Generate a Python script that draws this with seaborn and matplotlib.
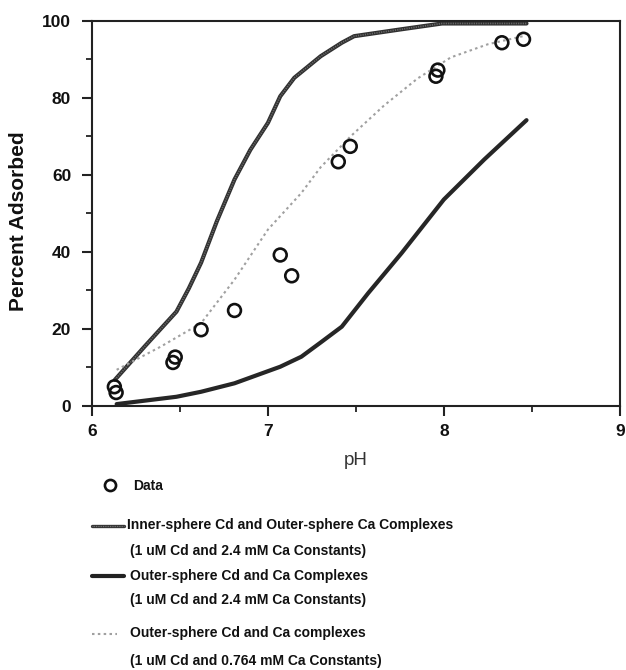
import matplotlib
matplotlib.use("Agg")
import matplotlib.pyplot as plt
from matplotlib.lines import Line2D
from matplotlib.ticker import MultipleLocator
import seaborn as sns

# Measured data
data_ph = [6.127, 6.137, 6.46, 6.473, 6.62, 6.81, 7.07, 7.135, 7.40, 7.468, 7.955, 7.966, 8.33, 8.453]
data_pct = [5.0, 3.5, 11.3, 12.7, 19.8, 24.8, 39.2, 33.8, 63.4, 67.4, 85.6, 87.2, 94.3, 95.2]

# Inner-sphere Cd and Outer-sphere Ca complexes (2.4 mM Ca)
inner_ph = [6.13, 6.30, 6.48, 6.55, 6.62, 6.71, 6.81, 6.90, 7.00, 7.07, 7.15, 7.30, 7.42, 7.49, 7.76, 7.99, 8.47]
inner_pct = [6.8, 15.5, 24.5, 30.5, 37.2, 48.0, 58.8, 66.5, 73.5, 80.4, 85.2, 90.8, 94.3, 96.0, 97.8, 99.3, 99.3]

# Outer-sphere Cd and Ca complexes (2.4 mM Ca)
outer_ph = [6.14, 6.48, 6.62, 6.81, 7.07, 7.19, 7.30, 7.42, 7.57, 7.76, 8.00, 8.23, 8.47]
outer_pct = [0.5, 2.4, 3.7, 5.9, 10.2, 12.8, 16.5, 20.6, 29.3, 39.7, 53.6, 64.0, 74.2]

# Outer-sphere Cd and Ca complexes (0.764 mM Ca)
low_ph = [6.14, 6.39, 6.62, 6.81, 7.00, 7.19, 7.30, 7.47, 7.66, 7.85, 8.04, 8.25, 8.45]
low_pct = [9.4, 15.4, 21.5, 32.8, 45.8, 55.3, 62.0, 70.0, 78.0, 85.0, 90.5, 93.9, 96.0]

sns.set_theme(style="ticks")
plt.rcParams["font.family"] = ["Liberation Sans", "DejaVu Sans"]

fig = plt.figure(figsize=(6.26, 6.70), dpi=100)
ax = fig.add_axes([0.147, 0.394, 0.843, 0.575])

sns.lineplot(x=inner_ph, y=inner_pct, ax=ax, color="#303030", linewidth=3.0, sort=False)
sns.lineplot(x=inner_ph, y=inner_pct, ax=ax, color="#6a6a6a", linewidth=1.2,
             linestyle=(0, (0.7, 0.7)), sort=False)
sns.lineplot(x=outer_ph, y=outer_pct, ax=ax, color="#262626", linewidth=3.0, sort=False)
sns.lineplot(x=low_ph, y=low_pct, ax=ax, color="#a0a0a0", linewidth=1.5,
             linestyle=(0, (1.2, 1.6)), sort=False)
sns.scatterplot(x=data_ph, y=data_pct, ax=ax, marker="o", s=85, facecolors="none",
                edgecolor="#111111", linewidth=1.9, zorder=5)

ax.set_xlim(6, 9)
ax.set_ylim(0, 100)
ax.xaxis.set_major_locator(MultipleLocator(1))
ax.xaxis.set_minor_locator(MultipleLocator(0.5))
ax.yaxis.set_major_locator(MultipleLocator(20))
ax.yaxis.set_minor_locator(MultipleLocator(10))
ax.tick_params(which="major", direction="out", length=7, width=1.5, color="#222222",
               labelsize=12.5, labelcolor="#111111")
ax.tick_params(axis="x", which="major", pad=6)
ax.tick_params(axis="y", which="major", pad=8)
ax.tick_params(which="minor", direction="out", length=4, width=1.3, color="#222222")
for lab in ax.get_xticklabels() + ax.get_yticklabels():
    lab.set_fontweight("bold")
for sp in ax.spines.values():
    sp.set_visible(True)
    sp.set_linewidth(1.5)
    sp.set_color("#222222")

ax.set_xlabel("pH", fontsize=13.5, fontweight="normal", color="#333333", labelpad=9)
ax.set_ylabel("Percent Adsorbed", fontsize=15, fontweight="bold", color="#111111")
ax.yaxis.set_label_coords(-0.121, 0.48)

# Legend below the plot
W, H = 626, 670
def fx(px): return px / W
def fy(py): return 1 - py / H

fs = 10
fig.lines.append(Line2D([fx(110)], [fy(485)], marker="o", markersize=8, markerfacecolor="none",
                        markeredgecolor="#111111", markeredgewidth=1.9, transform=fig.transFigure))
fig.text(fx(133), fy(486), "Data", fontsize=fs, fontweight="bold", va="center", color="#111111")

fig.lines.append(Line2D([fx(92), fx(124)], [fy(526), fy(526)], color="#333333", linewidth=2.4,
                        transform=fig.transFigure))
fig.lines.append(Line2D([fx(92), fx(124)], [fy(526), fy(526)], color="#7a7a7a", linewidth=0.9,
                        linestyle=(0, (0.7, 0.7)), transform=fig.transFigure))
fig.text(fx(127), fy(525), "Inner-sphere Cd and Outer-sphere Ca Complexes", fontsize=fs,
         fontweight="bold", va="center", color="#111111")
fig.text(fx(130), fy(551), "(1 uM Cd and 2.4 mM Ca Constants)", fontsize=fs,
         fontweight="bold", va="center", color="#111111")

fig.lines.append(Line2D([fx(92), fx(124)], [fy(576), fy(576)], color="#222222", linewidth=3.0,
                        transform=fig.transFigure))
fig.text(fx(130), fy(576), "Outer-sphere Cd and Ca Complexes", fontsize=fs,
         fontweight="bold", va="center", color="#111111")
fig.text(fx(130), fy(600), "(1 uM Cd and 2.4 mM Ca Constants)", fontsize=fs,
         fontweight="bold", va="center", color="#111111")

fig.lines.append(Line2D([fx(92), fx(117)], [fy(634), fy(634)], color="#a0a0a0", linewidth=1.5,
                        linestyle=(0, (1.2, 1.6)), transform=fig.transFigure))
fig.text(fx(130), fy(633), "Outer-sphere Cd and Ca complexes", fontsize=fs,
         fontweight="bold", va="center", color="#111111")
fig.text(fx(130), fy(661), "(1 uM Cd and 0.764 mM Ca Constants)", fontsize=fs,
         fontweight="bold", va="center", color="#111111")

fig.savefig("out.png", dpi=100)
